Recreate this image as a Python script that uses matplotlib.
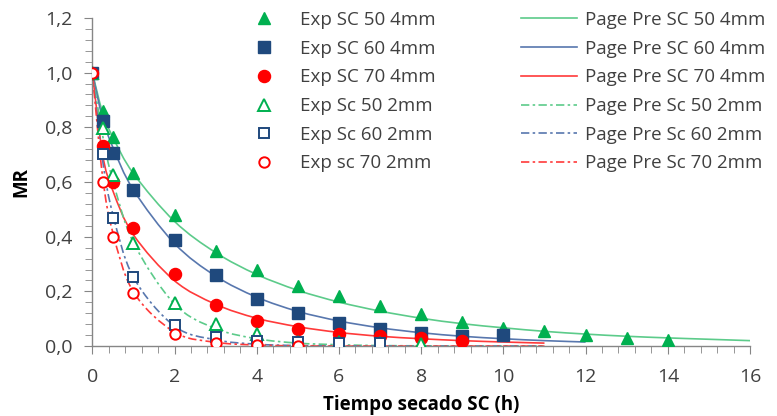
import matplotlib
matplotlib.use("Agg")
import matplotlib.pyplot as plt
from matplotlib.path import Path
from matplotlib.patches import PathPatch
from matplotlib.lines import Line2D
import matplotlib.ticker as mticker

plt.rcParams["font.family"] = ["Open Sans", "DejaVu Sans"]

# ── datos experimentales (MR vs tiempo, h) ───────────────────────────
t_50_4 = [0, 0.25, 0.5, 1, 2, 3, 4, 5, 6, 7, 8, 9, 10, 11, 12, 13, 14]
mr_50_4 = [1.0, 0.861, 0.764, 0.632, 0.479, 0.348, 0.278, 0.221, 0.182,
           0.146, 0.117, 0.087, 0.068, 0.054, 0.039, 0.028, 0.024]
t_60_4 = [0, 0.25, 0.5, 1, 2, 3, 4, 5, 6, 7, 8, 9, 10]
mr_60_4 = [1.0, 0.824, 0.707, 0.571, 0.388, 0.259, 0.171, 0.122, 0.083,
           0.062, 0.049, 0.038, 0.040]
t_70_4 = [0, 0.25, 0.5, 1, 2, 3, 4, 5, 6, 7, 8, 9]
mr_70_4 = [1.0, 0.733, 0.599, 0.432, 0.263, 0.150, 0.093, 0.061, 0.044,
           0.037, 0.030, 0.018]
t_50_2 = [0, 0.25, 0.5, 1, 2, 3, 4, 5, 6, 7, 8]
mr_50_2 = [1.0, 0.797, 0.624, 0.378, 0.158, 0.080, 0.044, 0.016, 0.014,
           0.011, 0.006]
t_60_2 = [0, 0.25, 0.5, 1, 2, 3, 4, 5, 6, 7]
mr_60_2 = [1.0, 0.703, 0.470, 0.252, 0.076, 0.032, 0.019, 0.015, 0.012, 0.012]
t_70_2 = [0, 0.25, 0.5, 1, 2, 3, 4, 5]
mr_70_2 = [1.0, 0.599, 0.398, 0.195, 0.046, 0.012, 0.005, 0.001]

# ── predicción modelo de Page ────────────────────────────────────────
tp_50_4 = [0, 0.25, 0.5, 1, 2, 3, 4, 5, 6, 7, 8, 9, 10, 11, 12, 13, 14, 15, 16]
page_50_4 = [1.0, 0.854, 0.764, 0.631, 0.456, 0.342, 0.262, 0.204, 0.161,
             0.128, 0.102, 0.082, 0.067, 0.054, 0.044, 0.036, 0.030, 0.025, 0.020]
tp_60_4 = [0, 0.25, 0.5, 1, 2, 3, 4, 5, 6, 7, 8, 9, 10, 11, 12]
page_60_4 = [1.0, 0.833, 0.727, 0.571, 0.375, 0.256, 0.179, 0.127, 0.092,
             0.067, 0.049, 0.036, 0.027, 0.020, 0.015]
tp_70_4 = [0, 0.25, 0.5, 1, 2, 3, 4, 5, 6, 7, 8, 9, 10, 11]
page_70_4 = [1.0, 0.701, 0.568, 0.407, 0.239, 0.153, 0.102, 0.071, 0.050,
             0.036, 0.027, 0.020, 0.015, 0.011]
tp_2 = [0, 0.25, 0.5, 1, 2, 3, 4, 5, 6, 7, 8, 9, 10, 11]
page_50_2 = [1.0, 0.771, 0.605, 0.379, 0.154, 0.064, 0.027, 0.011, 0.005,
             0.002, 0.001, 0.0, 0.0, 0.0]
page_60_2 = [1.0, 0.680, 0.482, 0.252, 0.073, 0.023, 0.007, 0.002, 0.001,
             0.0, 0.0, 0.0, 0.0, 0.0]
page_70_2 = [1.0, 0.620, 0.415, 0.198, 0.051, 0.014, 0.004, 0.001, 0.0,
             0.0, 0.0, 0.0, 0.0, 0.0]

GREEN, BLUE, RED = "#00B050", "#1F497D", "#FF0000"
GREEN_L, BLUE_L, RED_L = "#5CCB8A", "#5877AE", "#FF3A3A"
GRAY = "#868686"
DASHDOT = (0, (5, 2, 1.5, 2))


def smooth_line(ax, x, y, color, ls="-", lw=1.2):
    # curva suavizada tipo Excel (Catmull-Rom -> Bezier cúbica)
    pts = list(zip(x, y))
    verts = [pts[0]]
    codes = [Path.MOVETO]
    n = len(pts)
    for i in range(n - 1):
        p0 = pts[i - 1] if i > 0 else pts[i]
        p1, p2 = pts[i], pts[i + 1]
        p3 = pts[i + 2] if i + 2 < n else pts[i + 1]
        c1 = (p1[0] + (p2[0] - p0[0]) / 6, p1[1] + (p2[1] - p0[1]) / 6)
        c2 = (p2[0] - (p3[0] - p1[0]) / 6, p2[1] - (p3[1] - p1[1]) / 6)
        verts += [c1, c2, p2]
        codes += [Path.CURVE4] * 3
    patch = PathPatch(Path(verts, codes), fill=False, edgecolor=color,
                      linestyle=ls, linewidth=lw, zorder=2)
    ax.add_patch(patch)


fig = plt.figure(figsize=(7.77, 4.16), dpi=100)
ax = fig.add_axes([0.1188, 0.168, 0.8465, 0.789])

smooth_line(ax, tp_50_4, page_50_4, GREEN_L)
smooth_line(ax, tp_60_4, page_60_4, BLUE_L)
smooth_line(ax, tp_70_4, page_70_4, RED_L)
smooth_line(ax, tp_2, page_50_2, GREEN_L, DASHDOT)
smooth_line(ax, tp_2, page_60_2, BLUE_L, DASHDOT)
smooth_line(ax, tp_2, page_70_2, RED_L, DASHDOT)

ms = 9
h1, = ax.plot(t_50_4, mr_50_4, "^", color=GREEN, ms=ms, zorder=3, ls="none")
h2, = ax.plot(t_60_4, mr_60_4, "s", color=BLUE, ms=ms - 0.8, zorder=3, ls="none")
h3, = ax.plot(t_70_4, mr_70_4, "o", color=RED, ms=ms - 0.3, zorder=3, ls="none")
h4, = ax.plot(t_50_2, mr_50_2, "^", mfc="white", mec=GREEN, mew=1.4, ms=ms - 1,
              zorder=4, ls="none")
h5, = ax.plot(t_60_2, mr_60_2, "s", mfc="white", mec=BLUE, mew=1.4, ms=ms - 1.8,
              zorder=4, ls="none")
h6, = ax.plot(t_70_2, mr_70_2, "o", mfc="white", mec=RED, mew=1.4, ms=ms - 1.5,
              zorder=4, ls="none")

ax.set_xlim(0, 16)
ax.set_ylim(0, 1.2)
ax.xaxis.set_major_locator(mticker.MultipleLocator(2))
ax.xaxis.set_minor_locator(mticker.MultipleLocator(0.4))
ax.yaxis.set_major_locator(mticker.MultipleLocator(0.2))
ax.yaxis.set_minor_locator(mticker.MultipleLocator(0.04))
ax.yaxis.set_major_formatter(mticker.FuncFormatter(lambda v, p: f"{v:.1f}".replace(".", ",")))

for s in ["top", "right"]:
    ax.spines[s].set_visible(False)
for s in ["left", "bottom"]:
    ax.spines[s].set_color(GRAY)
    ax.spines[s].set_linewidth(1.0)
ax.tick_params(which="major", length=6, color=GRAY, labelsize=14,
               labelcolor="#404040")
ax.tick_params(axis="x", which="major", pad=10)
ax.tick_params(axis="y", which="major", pad=8)
ax.tick_params(which="minor", length=5, color=GRAY)

ax.set_xlabel("Tiempo secado SC (h)", fontsize=13.5, fontweight="bold", labelpad=6)
ax.set_ylabel("MR", fontsize=13.5, fontweight="bold", labelpad=10)

labels_exp = ["Exp SC 50 4mm", "Exp SC 60 4mm", "Exp SC 70 4mm",
              "Exp Sc 50 2mm", "Exp Sc 60 2mm", "Exp sc 70 2mm"]
labels_page = ["Page Pre SC 50 4mm", "Page Pre SC 60 4mm", "Page Pre SC 70 4mm",
               "Page Pre Sc 50 2mm", "Page Pre Sc 60 2mm", "Page Pre Sc 70 2mm"]
line_handles = [Line2D([], [], color=c, ls=l, lw=1.2)
                for c, l in [(GREEN_L, "-"), (BLUE_L, "-"), (RED_L, "-"),
                             (GREEN_L, DASHDOT), (BLUE_L, DASHDOT), (RED_L, DASHDOT)]]

legend_kw = dict(loc="upper left", frameon=False, fontsize=13.5,
                 handlelength=3.0, handletextpad=0.43, labelspacing=0.57,
                 borderpad=0, borderaxespad=0, labelcolor="#404040")
leg1 = fig.legend([h1, h2, h3, h4, h5, h6], labels_exp,
                  bbox_to_anchor=(236 / 777, 1 - 11 / 416), **legend_kw)
leg2 = fig.legend(line_handles, labels_page,
                  bbox_to_anchor=(521 / 777, 1 - 11 / 416), **legend_kw)

fig.savefig("out.png", dpi=100)
